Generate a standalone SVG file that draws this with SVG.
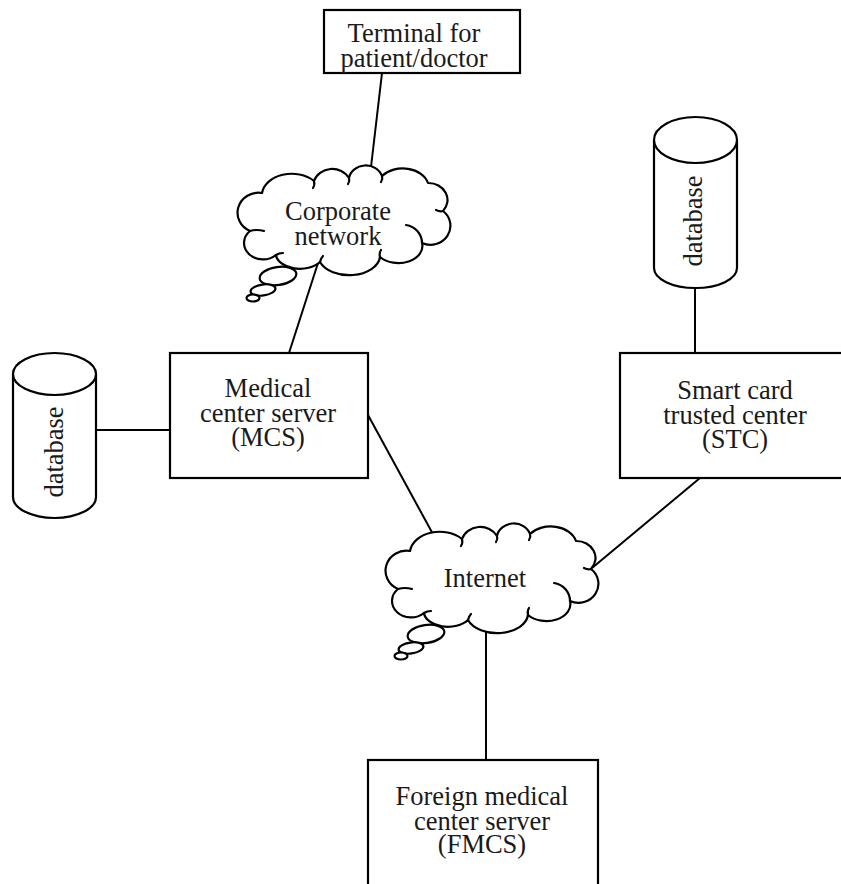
<svg xmlns="http://www.w3.org/2000/svg" xmlns:xlink="http://www.w3.org/1999/xlink" width="841" height="884" viewBox="0 0 841 884">
  <style>
    .box { fill: #fff; stroke: #000; stroke-width: 2.2; }
    .wire { fill: none; stroke: #000; stroke-width: 2; }
    .cl { fill: #fff; stroke: #000; stroke-width: 2.2; stroke-linejoin: round; }
    .hook { fill: none; stroke: #000; stroke-width: 2.2; stroke-linecap: round; }
    .t { font-family: "Liberation Serif", "Times New Roman", serif; font-size: 26.5px; fill: #1a1a1a; text-anchor: middle; }
  </style>
  <defs>
    <!-- thought-bubble cloud, 210 x 110 local box -->
    <g id="cloud">
      <ellipse class="cl" cx="38" cy="111" rx="18.5" ry="9" transform="rotate(-8 38 111)"/>
      <ellipse class="cl" cx="23" cy="125" rx="12.5" ry="5.5" transform="rotate(-8 23 125)"/>
      <ellipse class="cl" cx="13" cy="133" rx="6.5" ry="3.5"/>
      <path class="cl" d="M 22 28
        A 30 22 0 0 1 74 16
        A 19 17 0 0 1 109 13
        A 17 15 0 0 1 142 11
        A 26 19 0 0 1 188 18
        A 19 17 0 0 1 203 46
        A 20 19 0 0 1 182 78
        A 24 17 0 0 1 140 92
        A 31 20 0 0 1 80 97
        A 24 15 0 0 1 36 90
        A 15 13 0 0 1 10 66
        A 21 20 0 0 1 22 28 Z"/>
      <path class="hook" d="M 74 16 q 1 4 -1 7"/>
      <path class="hook" d="M 109 13 q 1 3 -1 6"/>
      <path class="hook" d="M 142 11 q 1 3 -1 6"/>
      <path class="hook" d="M 203 46 q -3 1 -7 -1"/>
      <path class="hook" d="M 166 60 A 19 18 0 0 1 182 78"/>
      <path class="hook" d="M 140 92 q -1 -4 1 -7"/>
      <path class="hook" d="M 80 97 q 1 -4 3 -6"/>
      <path class="hook" d="M 36 90 q 3 -2 7 -2"/>
      <path class="hook" d="M 10 66 q 7 -2 14 0"/>
    </g>
  </defs>

  <!-- links -->
  <g id="connectors">
    <line class="wire" x1="382" y1="73" x2="371" y2="167"/>
    <line class="wire" x1="318" y1="263" x2="289" y2="353"/>
    <line class="wire" x1="96" y1="430" x2="170" y2="430"/>
    <line class="wire" x1="695" y1="288" x2="695" y2="353"/>
    <line class="wire" x1="368" y1="415" x2="434" y2="536"/>
    <line class="wire" x1="700" y1="478" x2="592" y2="568"/>
    <line class="wire" x1="486" y1="630" x2="486" y2="760"/>
  </g>

  <g id="terminal">
    <rect class="box" x="324" y="10" width="196" height="63"/>
    <text class="t" x="414" y="42">Terminal for</text>
    <text class="t" x="414" y="67">patient/doctor</text>
  </g>

  <g id="corporate-network">
    <use xlink:href="#cloud" href="#cloud" x="240" y="165"/>
    <text class="t" x="338" y="220">Corporate</text>
    <text class="t" x="338" y="245">network</text>
  </g>

  <g id="database-mcs">
    <path class="box" d="M 13 374 L 13 497 A 41.5 21 0 0 0 96 497 L 96 374"/>
    <ellipse class="box" cx="54.5" cy="374" rx="41.5" ry="21"/>
    <text class="t" transform="translate(63 452) rotate(-90)">database</text>
  </g>

  <g id="mcs">
    <rect class="box" x="170" y="353" width="198" height="125"/>
    <text class="t" x="268" y="397">Medical</text>
    <text class="t" x="268" y="422">center server</text>
    <text class="t" x="268" y="446">(MCS)</text>
  </g>

  <g id="database-stc">
    <path class="box" d="M 654 140 L 654 268 A 41.5 20 0 0 0 737 268 L 737 140"/>
    <ellipse class="box" cx="695.5" cy="140" rx="41.5" ry="23"/>
    <text class="t" transform="translate(702 221) rotate(-90)">database</text>
  </g>

  <g id="stc">
    <rect class="box" x="620" y="353" width="240" height="125"/>
    <text class="t" x="735" y="399">Smart card</text>
    <text class="t" x="735" y="424">trusted center</text>
    <text class="t" x="735" y="448">(STC)</text>
  </g>

  <g id="internet">
    <use xlink:href="#cloud" href="#cloud" x="388" y="523"/>
    <text class="t" x="485" y="587">Internet</text>
  </g>

  <g id="fmcs">
    <rect class="box" x="368" y="760" width="230" height="140"/>
    <text class="t" x="482" y="805">Foreign medical</text>
    <text class="t" x="482" y="830">center server</text>
    <text class="t" x="482" y="853">(FMCS)</text>
  </g>
</svg>
